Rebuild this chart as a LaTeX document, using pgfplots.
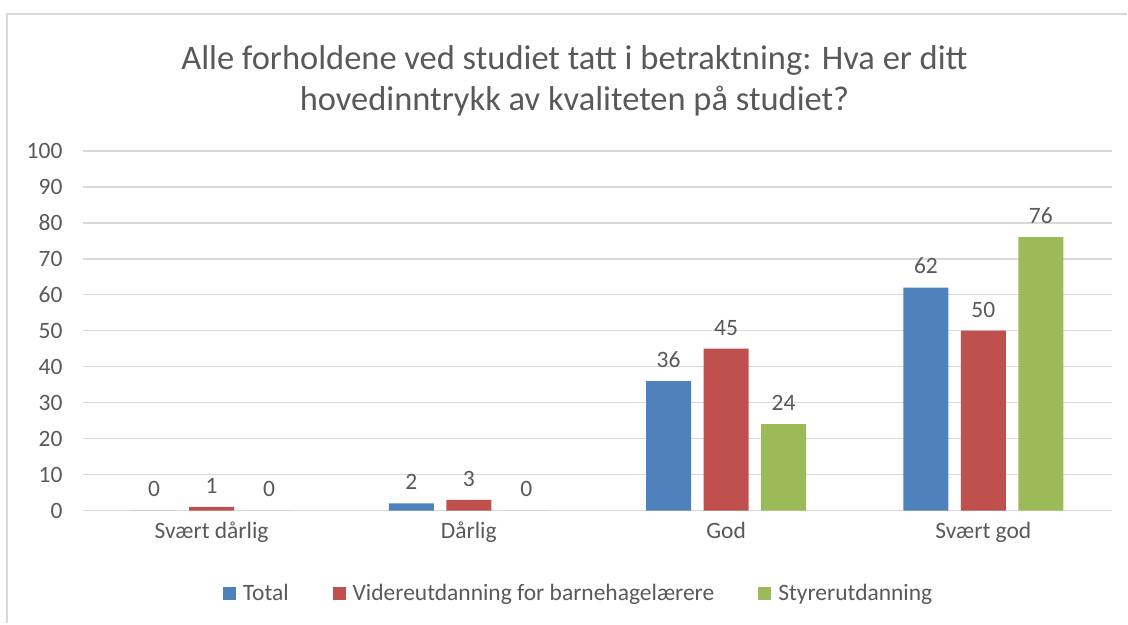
\documentclass[border=0pt]{standalone}
\usepackage{pgfplots}
\pgfplotsset{compat=1.18}
\usepackage{fontspec}
\setmainfont{Carlito}
\definecolor{txt}{HTML}{595959}
\definecolor{gridc}{HTML}{D9D9D9}
\definecolor{framec}{HTML}{D9D9D9}
\definecolor{cBlue}{HTML}{4F81BD}
\definecolor{cRed}{HTML}{C0504D}
\definecolor{cGreen}{HTML}{9BBB59}

\begin{document}
\begin{tikzpicture}
% page = 1128 x 624 px, 1px = 1pt, origin top left
\path (0pt,0pt) rectangle (1128pt,-624pt);
\draw[framec,line width=2pt] (7pt,-624pt) -- (7pt,-14pt) -- (1128pt,-14pt);

\node[txt,font=\fontsize{34.5}{41}\selectfont,align=center,anchor=center] at (575pt,-81pt)
  {Alle forholdene ved studiet tatt i betraktning: Hva er ditt\\hovedinntrykk av kvaliteten på studiet?};

\begin{axis}[
    at={(83pt,-511pt)}, anchor=south west,
    scale only axis,
    width=1030pt, height=360pt,
    ybar=12.5pt, bar width=45pt,
    xmin=-0.5, xmax=3.5,
    ymin=0, ymax=100,
    xtick=data,
    xticklabels={Svært dårlig,Dårlig,God,Svært god},
    ytick={0,10,...,100},
    axis line style={draw=none},
    major tick length=0pt,
    ymajorgrids=true,
    grid style={draw=gridc,line width=1.5pt},
    tick label style={txt,font=\fontsize{23.5}{28}\selectfont},
    yticklabel style={xshift=-17pt},
    xticklabel style={yshift=-8pt},
    /pgf/number format/assume math mode=true,
    nodes near coords,
    every node near coord/.append style={txt,font=\fontsize{23.5}{28}\selectfont,yshift=10pt},
    legend columns=3,
    legend style={draw=none,fill=none,at={(0.4816,-0.2306)},anchor=center,
      font=\fontsize{23.5}{28}\selectfont,text=txt,
      /tikz/every even column/.append style={column sep=42pt}},
    legend image code/.code={\fill[#1] (0pt,-6.5pt) rectangle (13pt,6.5pt);
      \path (0pt,0pt) -- (18pt,0pt);},
]
\addplot[fill=cBlue,draw=none] coordinates {(0,0) (1,2) (2,36) (3,62)};
\addplot[fill=cRed,draw=none] coordinates {(0,1) (1,3) (2,45) (3,50)};
\addplot[fill=cGreen,draw=none] coordinates {(0,0) (1,0) (2,24) (3,76)};
\legend{Total,Videreutdanning for barnehagelærere,Styrerutdanning}
\end{axis}
\end{tikzpicture}
\end{document}
